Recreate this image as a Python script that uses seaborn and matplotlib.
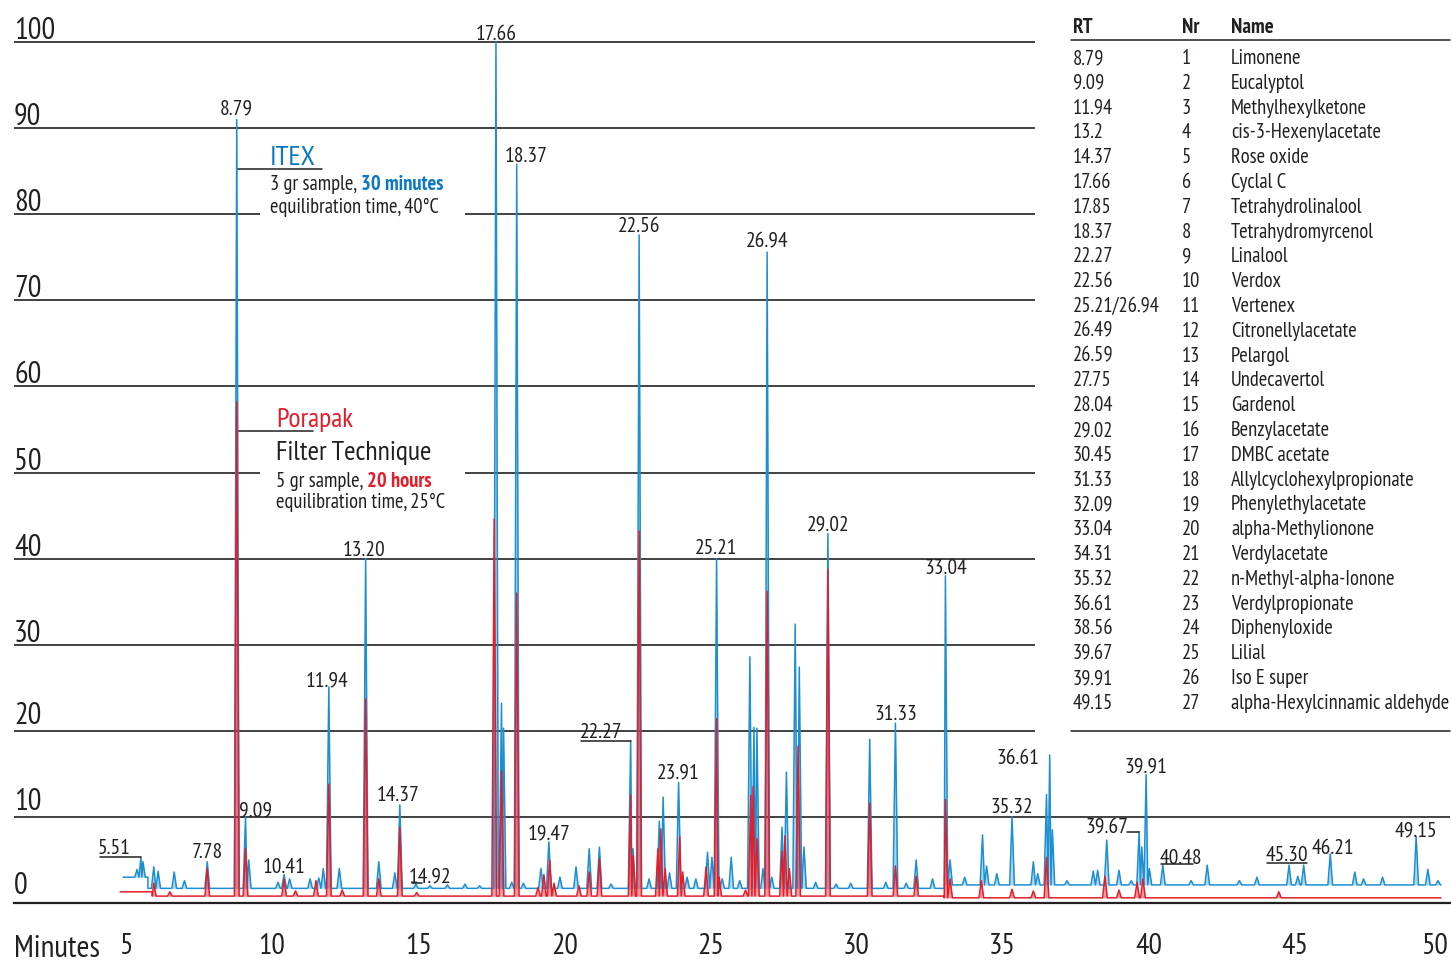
import numpy as np
import pandas as pd
import matplotlib
matplotlib.use("Agg")
import matplotlib.pyplot as plt
import matplotlib.transforms as mtransforms
import seaborn as sns

# ---- values (minutes, % response) ----
itex_rt = [5.38, 5.51, 5.58, 5.95, 6.10, 6.65, 7.00, 7.78, 8.79, 9.09,
           9.20, 10.20, 10.41, 10.60, 11.30, 11.60, 11.75, 11.94, 12.30, 13.20,
           13.65, 14.20, 14.37, 14.92, 15.40, 16.00, 16.60, 17.10, 17.66, 17.85,
           17.92, 18.20, 18.37, 18.60, 19.20, 19.47, 19.85, 20.40, 20.85, 21.20,
           21.60, 22.27, 22.35, 22.56, 22.90, 23.25, 23.38, 23.60, 23.91, 24.20,
           24.50, 24.90, 25.05, 25.21, 25.40, 25.71, 26.00, 26.35, 26.49, 26.59,
           26.80, 26.94, 27.10, 27.45, 27.60, 27.90, 28.04, 28.20, 28.60, 29.02,
           29.30, 29.80, 30.45, 31.00, 31.33, 31.70, 32.04, 32.60, 33.04, 33.20,
           33.70, 34.31, 34.45, 34.80, 35.32, 36.05, 36.20, 36.50, 36.61, 36.70,
           37.20, 38.10, 38.25, 38.56, 38.98, 39.40, 39.67, 39.76, 39.91, 40.02,
           40.48, 41.45, 42.00, 43.10, 43.70, 44.80, 45.10, 45.30, 46.21, 47.05,
           47.35, 48.00, 49.15, 49.55, 49.90]
itex_h = [3.9, 5.3, 4.8, 4.2, 3.7, 3.6, 2.6, 4.8, 91.0, 10.0,
          5.0, 2.4, 3.3, 2.8, 2.8, 2.9, 4.0, 25.1, 4.0, 40.0,
          4.8, 3.5, 11.4, 2.2, 2.0, 2.1, 2.2, 2.0, 100.0, 23.2,
          20.3, 2.4, 85.8, 2.3, 4.0, 7.1, 3.0, 4.2, 6.3, 6.5,
          2.2, 18.8, 6.3, 77.6, 2.8, 9.5, 12.3, 3.5, 14.0, 3.0,
          2.8, 5.9, 5.3, 40.0, 2.8, 5.3, 2.6, 28.6, 20.4, 20.3,
          4.0, 75.6, 3.0, 8.8, 15.2, 32.4, 27.4, 6.5, 2.4, 42.9,
          2.2, 2.3, 19.0, 2.4, 20.9, 2.3, 5.0, 2.8, 38.0, 5.0,
          3.0, 7.9, 4.3, 3.4, 10.0, 4.8, 3.4, 12.6, 17.2, 8.5,
          2.6, 3.7, 3.8, 7.3, 3.8, 2.6, 8.3, 6.5, 14.9, 4.0,
          4.4, 2.6, 4.4, 2.6, 3.0, 4.4, 3.1, 4.4, 5.7, 3.6,
          2.8, 3.0, 7.7, 3.9, 2.6]

porapak_rt = [5.95, 6.50, 7.78, 8.79, 9.09, 10.41, 10.80, 11.50, 11.94, 12.40,
              13.20, 13.65, 14.37, 14.95, 17.60, 17.85, 18.37, 19.10, 19.30, 19.50,
              19.65, 20.50, 20.85, 21.20, 22.27, 22.35, 22.56, 23.20, 23.30, 23.45,
              23.95, 24.05, 24.85, 25.21, 25.30, 26.20, 26.38, 26.46, 26.59, 26.94,
              27.45, 27.55, 27.70, 28.00, 29.02, 30.45, 31.33, 32.04, 33.04, 33.20,
              34.27, 35.32, 36.05, 36.50, 38.50, 38.98, 39.60, 39.80, 44.45]
porapak_h = [2.3, 1.3, 4.0, 58.2, 6.3, 2.8, 1.4, 2.6, 13.8, 1.5,
             23.7, 2.8, 8.8, 1.2, 44.6, 15.3, 36.0, 1.8, 3.3, 5.0,
             2.3, 2.0, 3.6, 5.1, 12.5, 5.5, 43.2, 6.3, 8.6, 4.0,
             7.7, 3.6, 4.2, 21.4, 3.0, 1.5, 12.5, 13.5, 7.5, 36.2,
             6.0, 7.8, 4.0, 18.2, 38.8, 11.6, 4.3, 3.1, 12.0, 2.8,
             2.6, 1.6, 1.4, 5.3, 3.1, 1.5, 2.4, 2.8, 1.3]

# baseline levels (start time of each level)
itex_base_t = [4.9, 5.75, 33.0]
itex_base_v = [3.0, 1.7, 2.1]
porapak_base_t = [4.8, 5.9, 33.0]
porapak_base_v = [1.3, 0.8, 0.6]
run_end = 50.0

x_ticks = [5, 10, 15, 20, 25, 30, 35, 40, 45, 50]
y_ticks = [0, 10, 20, 30, 40, 50, 60, 70, 80, 90, 100]

peak_labels = ["8.79", "9.09", "17.66", "18.37", "22.56", "26.94", "29.02", "25.21",
               "13.20", "33.04", "11.94", "31.33", "22.27", "36.61", "39.91", "23.91",
               "14.37", "35.32", "39.67", "19.47", "46.21", "5.51", "7.78", "49.15",
               "40.48", "45.30", "10.41", "14.92"]

table_rt = ["8.79", "9.09", "11.94", "13.2", "14.37", "17.66", "17.85", "18.37", "22.27",
            "22.56", "25.21/26.94", "26.49", "26.59", "27.75", "28.04", "29.02", "30.45",
            "31.33", "32.09", "33.04", "34.31", "35.32", "36.61", "38.56", "39.67",
            "39.91", "49.15"]
table_nr = [str(i) for i in range(1, 28)]
table_name = ["Limonene", "Eucalyptol", "Methylhexylketone", "cis-3-Hexenylacetate",
              "Rose oxide", "Cyclal C", "Tetrahydrolinalool", "Tetrahydromyrcenol",
              "Linalool", "Verdox", "Vertenex", "Citronellylacetate", "Pelargol",
              "Undecavertol", "Gardenol", "Benzylacetate", "DMBC acetate",
              "Allylcyclohexylpropionate", "Phenylethylacetate", "alpha-Methylionone",
              "Verdylacetate", "n-Methyl-alpha-Ionone", "Verdylpropionate",
              "Diphenyloxide", "Lilial", "Iso E super", "alpha-Hexylcinnamic aldehyde"]

# ---- layout (pixels of the 1451x962 picture) ----
W, H = 1451, 962
PPM = (1441 - 126) / 45.0      # pixels per minute
PPV = (904 - 43) / 100.0       # pixels per % unit
INK = "#231f20"
BLUE = "#1b8fd2"
BLUE_TXT = "#0b78c0"
RED = "#e31e2a"

label_offsets = {  # (dx, dy) in pixels from the peak top
    "8.79": (0, 6), "9.09": (10, 2), "17.66": (0, 3), "18.37": (9, 3),
    "22.56": (0, 4), "26.94": (0, 6), "29.02": (0, 4), "25.21": (0, 6),
    "13.20": (-2, 4), "33.04": (0, 3), "11.94": (-2, 2), "31.33": (0, 4),
    "22.27": (-30, 4), "36.61": (-32, -8), "39.91": (0, 3), "23.91": (0, 5),
    "14.37": (-2, 5), "35.32": (0, 5), "39.67": (-32, -1), "19.47": (0, 3),
    "46.21": (3, 1), "5.51": (-27, 4), "7.78": (0, 5), "49.15": (0, 1),
    "40.48": (18, 2), "45.30": (-17, 5), "10.41": (0, 3), "14.92": (14, 3),
}
leaders = {  # (x0, x1, dy) in pixels from the peak top
    "22.27": (-50, 0, 0), "5.51": (-41, 0, 0), "39.67": (-12, 0, 0),
    "40.48": (-2, 30, 1), "45.30": (-37, 3, 2), "14.92": (-4, 6, 1),
}


def t_of(x):
    return 5 + (x - 126) / PPM


def v_of(y):
    return (904 - y) / PPV


def build_trace(rts, hs, base_t, base_v, end_t, half_w=0.08):
    def level(t):
        i = np.searchsorted(base_t, t, side="right") - 1
        return base_v[max(i, 0)]

    pts = [(base_t[0], 0, base_v[0], base_v[0])]
    for i in range(1, len(base_t)):
        pts.append((base_t[i], 0, base_v[i - 1], base_v[i - 1]))
        pts.append((base_t[i], 1, base_v[i], base_v[i]))
    order = np.argsort(rts)
    rts = np.asarray(rts, float)[order]
    hs = np.asarray(hs, float)[order]
    for k, (t, h) in enumerate(zip(rts, hs)):
        lo = t - half_w if k == 0 else max(t - half_w, (rts[k - 1] + t) / 2)
        hi = t + half_w if k == len(rts) - 1 else min(t + half_w, (t + rts[k + 1]) / 2)
        pts.append((lo, 0, level(lo), level(lo)))
        pts.append((t, 0, h, level(t)))
        pts.append((hi, 0, level(hi), level(hi)))
    pts.append((end_t, 0, level(end_t), level(end_t)))
    pts.sort(key=lambda p: (p[0], p[1]))
    arr = np.array([(p[0], p[2], p[3]) for p in pts])
    return arr[:, 0], arr[:, 1], arr[:, 2]


ix, iy, ib = build_trace(itex_rt, itex_h, itex_base_t, itex_base_v, run_end)
px, py, pb = build_trace(porapak_rt, porapak_h, porapak_base_t, porapak_base_v, run_end)

df = pd.concat([
    pd.DataFrame({"time": ix, "response": iy, "method": "ITEX"}),
    pd.DataFrame({"time": px, "response": py, "method": "Porapak"}),
], ignore_index=True)

sns.set_style("white")
plt.rcParams["font.family"] = ["PT Sans Narrow", "Liberation Sans Narrow", "DejaVu Sans"]
plt.rcParams["text.color"] = INK

fig = plt.figure(figsize=(W / 100, H / 100), dpi=100)
ax = fig.add_axes([14 / W, (H - 904) / H, (W - 14) / W, 904 / H])
ax.set_xlim(t_of(14), t_of(W))
ax.set_ylim(0, v_of(0))

# grid lines (with gaps behind the method notes)
x_left = t_of(14)
for v in y_ticks[1:]:
    if v == 10:
        segs = [(x_left, t_of(1450))]
    elif v in (50, 80):
        segs = [(x_left, t_of(260)), (t_of(465), t_of(1035))]
    else:
        segs = [(x_left, t_of(1035))]
    for a, b in segs:
        ax.hlines(v, a, b, color="#333333", lw=1.3, zorder=1)

ax.fill_between(ix, ib, iy, color=BLUE, alpha=0.35, lw=0, zorder=2)
ax.fill_between(px, pb, py, color=RED, alpha=0.45, lw=0, zorder=2)
sns.lineplot(data=df, x="time", y="response", hue="method",
             palette={"ITEX": BLUE, "Porapak": RED}, estimator=None, sort=False,
             lw=1.1, legend=False, ax=ax, zorder=3)

# peak labels
for lab in peak_labels:
    rt = float(lab)
    k = int(np.argmin(np.abs(np.asarray(itex_rt) - rt)))
    h = itex_h[k]
    dx, dy = label_offsets[lab]
    ax.annotate(lab, xy=(itex_rt[k], h), xytext=(dx, dy), textcoords="offset pixels",
                ha="center", va="baseline", fontsize=15.5, color=INK, zorder=5)
    if lab in leaders:
        x0, x1, ly = leaders[lab]
        ax.plot([itex_rt[k] + x0 / PPM, itex_rt[k] + x1 / PPM],
                [h + ly / PPV] * 2, color=INK, lw=1.1, zorder=4)

# y labels sitting on the grid lines
gaps = {0: 10, 10: 8, 20: 8}
for v in y_ticks:
    ax.text(t_of(14), v + gaps.get(v, 4) / PPV, str(v), ha="left", va="baseline",
            fontsize=22, color=INK)

# x axis
ax.set_xticks(x_ticks)
ax.set_yticks([])
ax.tick_params(axis="x", direction="out", length=16, width=1.8, colors=INK,
               labelsize=21.5, pad=5)
for s in ["left", "top", "right"]:
    ax.spines[s].set_visible(False)
ax.spines["bottom"].set_color(INK)
ax.spines["bottom"].set_linewidth(1.6)
ax.set_xlabel("")
ax.set_ylabel("")
last = ax.get_xticklabels()[-1]
last.set_transform(last.get_transform()
                   + mtransforms.ScaledTranslation(-0.06, 0, fig.dpi_scale_trans))
fig.text(14 / W, 1 - 957 / H, "Minutes", ha="left", va="baseline", fontsize=22.5, color=INK)

# method notes
ax.plot([8.79, t_of(322)], [v_of(170)] * 2, color=INK, lw=1.1)
ax.text(t_of(270), v_of(165), "ITEX", color=BLUE_TXT, fontsize=20.5, va="baseline")
t1 = ax.text(t_of(270), v_of(190), "3 gr sample,", fontsize=14.8, va="baseline")
ax.annotate("30 minutes", xy=(1, 0), xycoords=t1, xytext=(4, 0),
            textcoords="offset pixels", va="bottom", fontsize=14.8,
            fontweight="bold", color=BLUE_TXT)
ax.text(t_of(270), v_of(213), "equilibration time, 40°C", fontsize=14.8, va="baseline")

ax.plot([t_of(237), t_of(313)], [v_of(432)] * 2, color=INK, lw=1.1)
ax.text(t_of(276), v_of(427), "Porapak", color=RED, fontsize=20, va="baseline")
ax.text(t_of(276), v_of(460), "Filter Technique", fontsize=20, va="baseline")
t2 = ax.text(t_of(276), v_of(487), "5 gr sample,", fontsize=14.8, va="baseline")
ax.annotate("20 hours", xy=(1, 0), xycoords=t2, xytext=(4, 0),
            textcoords="offset pixels", va="bottom", fontsize=14.8,
            fontweight="bold", color=RED)
ax.text(t_of(276), v_of(508), "equilibration time, 25°C", fontsize=14.8, va="baseline")

# compound table
cols = [1073, 1182, 1231]
for x, head in zip(cols, ["RT", "Nr", "Name"]):
    fig.text(x / W, 1 - 33 / H, head, fontsize=15, fontweight="bold", va="baseline")
fig.add_artist(plt.Line2D([1071 / W, 1450 / W], [1 - 41 / H] * 2, color=INK, lw=1.1))
for i, (rt, nr, name) in enumerate(zip(table_rt, table_nr, table_name)):
    y = 1 - (64 + i * 24.8) / H
    fig.text(cols[0] / W, y, rt, fontsize=14.8, va="baseline")
    fig.text(cols[1] / W, y, nr, fontsize=14.8, va="baseline")
    fig.text(cols[2] / W, y, name, fontsize=14.8, va="baseline")
fig.add_artist(plt.Line2D([1071 / W, 1450 / W], [1 - 732 / H] * 2, color=INK, lw=1.1))

fig.savefig("out.png", dpi=100)
